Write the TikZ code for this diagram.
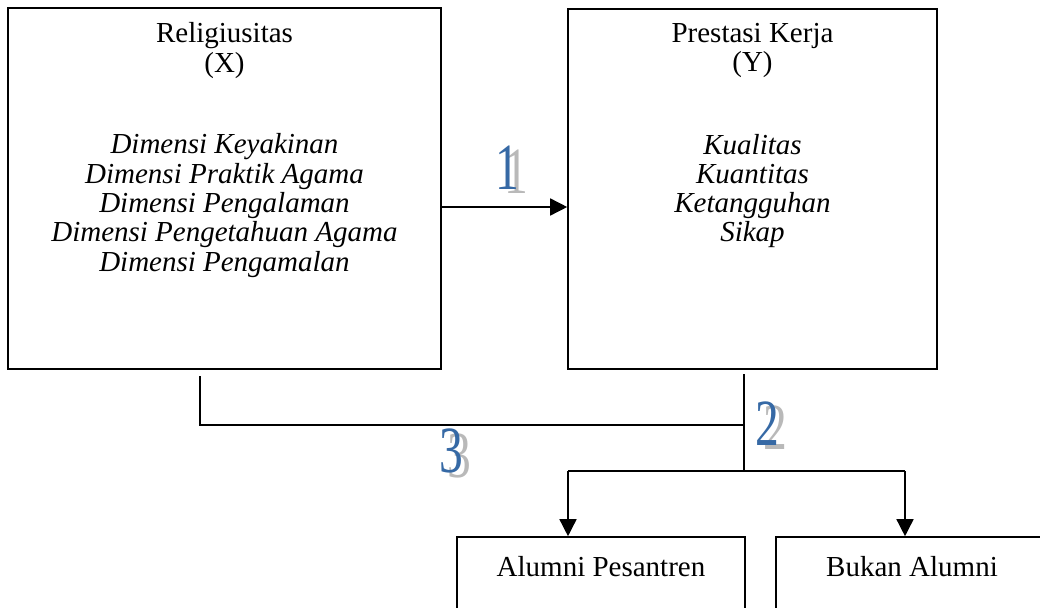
\documentclass[tikz,border=0pt]{standalone}
\usepackage{fontspec}
\setmainfont{Liberation Serif}
\usetikzlibrary{arrows.meta,calc}
\definecolor{numblue}{RGB}{54,105,165}
\definecolor{numgrey}{RGB}{185,185,185}
\tikzset{
  box/.style={draw=black,line width=1.6pt,inner sep=0pt},
  txt/.style={inner sep=0pt,align=center,font=\fontsize{29}{29.3}\selectfont},
  conn/.style={draw=black,line width=1.5pt},
  arr/.style={conn,-{Triangle[length=17pt,width=17pt]}},
  numb/.style={inner sep=0pt,anchor=base,text=numblue,font=\fontsize{66}{66}\selectfont},
  nums/.style={inner sep=0pt,anchor=base,text=numgrey,font=\fontsize{66}{66}\selectfont}
}
\begin{document}
\begin{tikzpicture}[x=1pt,y=-1pt]
\useasboundingbox (0,0) rectangle (1040,607);
\clip (0,0) rectangle (1040,607);
% main boxes
\node[box,minimum width=433pt,minimum height=361pt] (X) at (224.5,188.5) {};
\node[box,minimum width=369pt,minimum height=360pt] (Y) at (752.5,189) {};
% texts in boxes
\node[txt] (Xt) at (224.5,50.5) {Religiusitas\\(X)};
\node[txt,font=\fontsize{29}{29.3}\selectfont\itshape] (Xl) at (224.5,205.5) {Dimensi Keyakinan\\Dimensi Praktik Agama\\Dimensi Pengalaman\\Dimensi Pengetahuan Agama\\Dimensi Pengamalan};
\node[txt] (Yt) at (752.5,50.5) {Prestasi Kerja\\(Y)};
\node[txt,font=\fontsize{29}{29.3}\selectfont\itshape] (Yl) at (752.5,191) {Kualitas\\Kuantitas\\Ketangguhan\\Sikap};
% bottom boxes (cut off by the page edge)
\node[box,minimum width=288pt,minimum height=120pt] (A) at (601,597) {};
\node[box,minimum width=300pt,minimum height=120pt] (B) at (926,597) {};
\node[txt,anchor=base] (At) at (601,576) {Alumni Pesantren};
\node[txt,anchor=base] (Bt) at (912,576) {Bukan Alumni};
% coordinates
\coordinate (ay) at (0,207);
\coordinate (c1) at (200,376);
\coordinate (c2) at (200,425);
\coordinate (c3) at (744,425);
\coordinate (v1) at (744,374);
\coordinate (v2) at (744,471);
\coordinate (h1) at (568,471);
\coordinate (h2) at (905,471);
% connectors
\draw[arr] (ay -| X.east) -- (ay -| Y.west);
\draw[conn] (c1) -- (c2) -- (c3);
\draw[conn] (v1) -- (v2);
\draw[conn] (h1) -- (h2);
\draw[arr] (h1) -- (h1 |- A.north);
\draw[arr] (h2) -- (h2 |- B.north);
% numbers
\node[nums] (n1s) at (516,193) {\scalebox{0.72}[1]{1}};
\node[numb] (n1) at (507,189) {\scalebox{0.72}[1]{1}};
\node[nums] (n2s) at (775,449) {\scalebox{0.72}[1]{2}};
\node[numb] (n2) at (767,445) {\scalebox{0.72}[1]{2}};
\node[nums] (n3s) at (459,477) {\scalebox{0.72}[1]{3}};
\node[numb] (n3) at (451,472) {\scalebox{0.72}[1]{3}};
\end{tikzpicture}
\end{document}
